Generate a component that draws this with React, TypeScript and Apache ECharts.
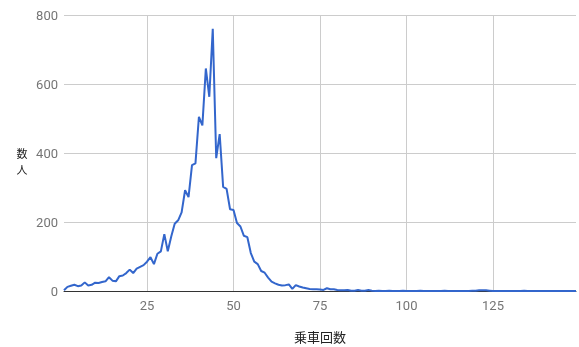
import React, { useEffect, useRef } from "react";
import * as echarts from "echarts";

// Number of rides (乗車回数) starting at 1
const rideCountStart = 1;
// Number of people (数人) for each ride count
const people = [
  2, 12, 15, 18, 14, 16, 25, 16, 18, 24,
  23, 26, 28, 40, 30, 28, 43, 45, 52, 62,
  52, 65, 70, 75, 85, 98, 78, 108, 115, 165,
  115, 158, 195, 205, 228, 292, 272, 365, 370, 505,
  480, 645, 563, 760, 385, 455, 302, 296, 237, 235,
  197, 187, 160, 156, 110, 85, 78, 58, 53, 39,
  27, 22, 18, 16, 17, 19, 6, 17, 13, 10,
  8, 6, 5, 5, 4, 3, 8, 5, 5, 3,
  2, 2, 3, 1, 1, 3, 1, 1, 3, 1,
  0, 1, 0, 0, 1, 0, 0, 0, 1, 0,
  0, 0, 0, 1, 0, 0, 0, 0, 0, 0,
  1, 0, 0, 0, 0, 0, 0, 0, 1, 1,
  2, 2, 2, 1, 0, 0, 0, 0, 0, 0,
  0, 0, 0, 1, 0, 0, 0, 0, 0, 0,
  0, 0, 0, 0, 0, 0, 0, 0, 0,
];
const xTicks = [25, 50, 75, 100, 125];
const yTicks = [0, 200, 400, 600, 800];
const xTitle = "乗車回数";
const yTitleChars = ["数", "人"];

export default function App() {
  const ref = useRef<HTMLDivElement>(null);
  useEffect(() => {
    if (!ref.current) return;
    const chart = echarts.init(ref.current, undefined, { renderer: "svg" });
    const data = people.map((v, i) => [rideCountStart + i, v]);
    const xMax = rideCountStart + people.length - 1;
    chart.setOption({
      animation: false,
      textStyle: { fontFamily: "Roboto, Arial, sans-serif" },
      grid: { left: 64, right: 3, top: 15, bottom: 56, containLabel: false },
      xAxis: {
        type: "value",
        min: rideCountStart,
        max: xMax,
        axisLine: { show: true, lineStyle: { color: "#333", width: 1 } },
        axisTick: { show: false, customValues: xTicks },
        axisLabel: {
          customValues: xTicks,
          color: "#757575",
          fontSize: 13,
          margin: 8,
        },
        splitLine: { show: true, lineStyle: { color: "#cccccc", width: 1 } },
      },
      yAxis: {
        type: "value",
        min: yTicks[0],
        max: yTicks[yTicks.length - 1],
        interval: 200,
        axisLine: { show: false },
        axisTick: { show: false },
        axisLabel: { color: "#757575", fontSize: 13, margin: 6 },
        splitLine: { show: true, lineStyle: { color: "#cccccc", width: 1 } },
      },
      graphic: [
        {
          type: "text",
          x: 320,
          y: 336,
          style: {
            text: xTitle,
            fill: "#222",
            fontSize: 13,
            fontFamily: "Noto Sans CJK JP, sans-serif",
            align: "center",
            verticalAlign: "middle",
          },
        },
        ...yTitleChars.map((ch, i) => ({
          type: "text",
          x: 22,
          y: 153 + i * 16,
          style: {
            text: ch,
            fill: "#222",
            fontSize: 11,
            lineHeight: 11,
            fontFamily: "Noto Sans CJK JP, sans-serif",
            align: "center",
            verticalAlign: "middle",
          },
        })),
      ],
      series: [
        {
          type: "line",
          data,
          showSymbol: false,
          symbol: "none",
          lineStyle: { color: "#3366cc", width: 2 },
          itemStyle: { color: "#3366cc" },
          z: 5,
        },
      ],
    });
    return () => chart.dispose();
  }, []);
  return (
    <div
      ref={ref}
      style={{ position: "fixed", left: 0, top: 0, width: 579, height: 347 }}
    />
  );
}
